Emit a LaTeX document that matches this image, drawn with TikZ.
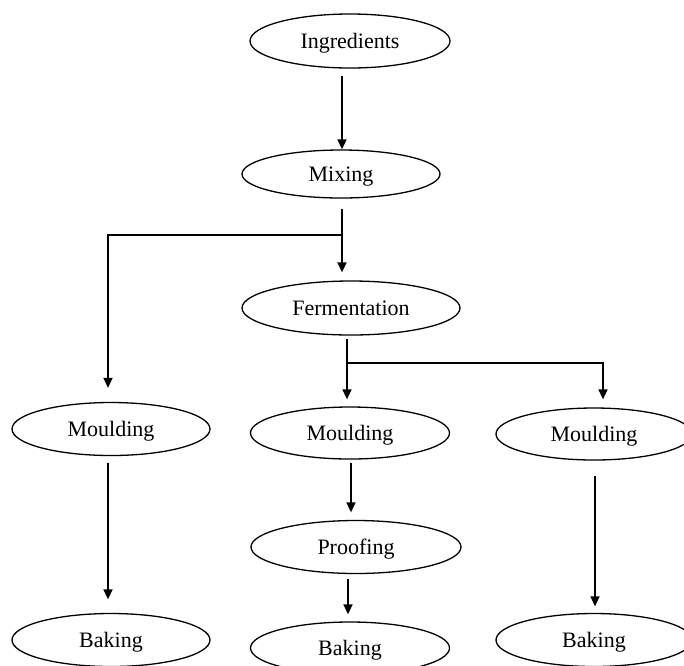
\documentclass[tikz,border=0pt]{standalone}
\usepackage{fontspec}
\setmainfont{Liberation Serif}
\usetikzlibrary{shapes.geometric,arrows.meta,calc}
\begin{document}
\begin{tikzpicture}[x=1pt,y=-1pt,
  proc/.style={ellipse,draw,line width=1.3pt,inner sep=0pt,text depth=0pt,font=\fontsize{22}{26}\selectfont},
  link/.style={line width=1.5pt},
  arr/.style={line width=1.5pt,-{Triangle[length=10pt,width=9pt]}}]
\useasboundingbox (0,0) rectangle (684,665);
\node[proc,minimum width=200pt,minimum height=54pt] (ing) at (350,41) {Ingredients};
\node[proc,minimum width=198pt,minimum height=48pt] (mix) at (341,174) {Mixing};
\node[proc,minimum width=218pt,minimum height=54pt] (fer) at (351,308) {Fermentation};
\node[proc,minimum width=198pt,minimum height=53pt] (mL) at (111,429) {Moulding};
\node[proc,minimum width=199pt,minimum height=52pt] (mM) at (350,433) {Moulding};
\node[proc,minimum width=196pt,minimum height=52pt] (mR) at (594,434) {Moulding};
\node[proc,minimum width=210pt,minimum height=53pt] (pro) at (356,547) {Proofing};
\node[proc,minimum width=198pt,minimum height=53pt] (bL) at (111,640) {Baking};
\node[proc,minimum width=199pt,minimum height=52pt] (bM) at (350,648) {Baking};
\node[proc,minimum width=196pt,minimum height=53pt] (bR) at (594,640) {Baking};
\coordinate (j1) at (342,235);
\coordinate (j2) at (347,363);
\draw[arr] ([xshift=1pt,yshift=-7pt]ing.south -| mix.north) -- ([xshift=1pt]mix.north);
\draw[link] ([yshift=-10pt]mix.south -| j1) -- (j1);
\draw[arr] (j1) -- ([yshift=8pt]fer.north -| j1);
\draw[arr] (j1) -| ([xshift=-3pt,yshift=14pt]mL.north);
\draw[link] ([yshift=-3pt]fer.south -| j2) -- (j2);
\draw[arr] (j2) -- ([yshift=7pt]mM.north -| j2);
\draw[arr] (j2) -| ([xshift=9pt,yshift=8pt]mR.north);
\draw[arr] ([xshift=-3pt,yshift=-6.5pt]mL.south) -- ([xshift=-3pt,yshift=13.5pt]bL.north);
\draw[arr] ([xshift=1pt,yshift=-3pt]mM.south) -- ([yshift=7.5pt]pro.north -| 351,0);
\draw[arr] ([xshift=-8pt,yshift=-4.5pt]pro.south) -- ([yshift=7pt]bM.north -| 348,0);
\draw[arr] ([xshift=1pt,yshift=-15pt]mR.south) -- ([xshift=1pt,yshift=6.5pt]bR.north);
\end{tikzpicture}
\end{document}
